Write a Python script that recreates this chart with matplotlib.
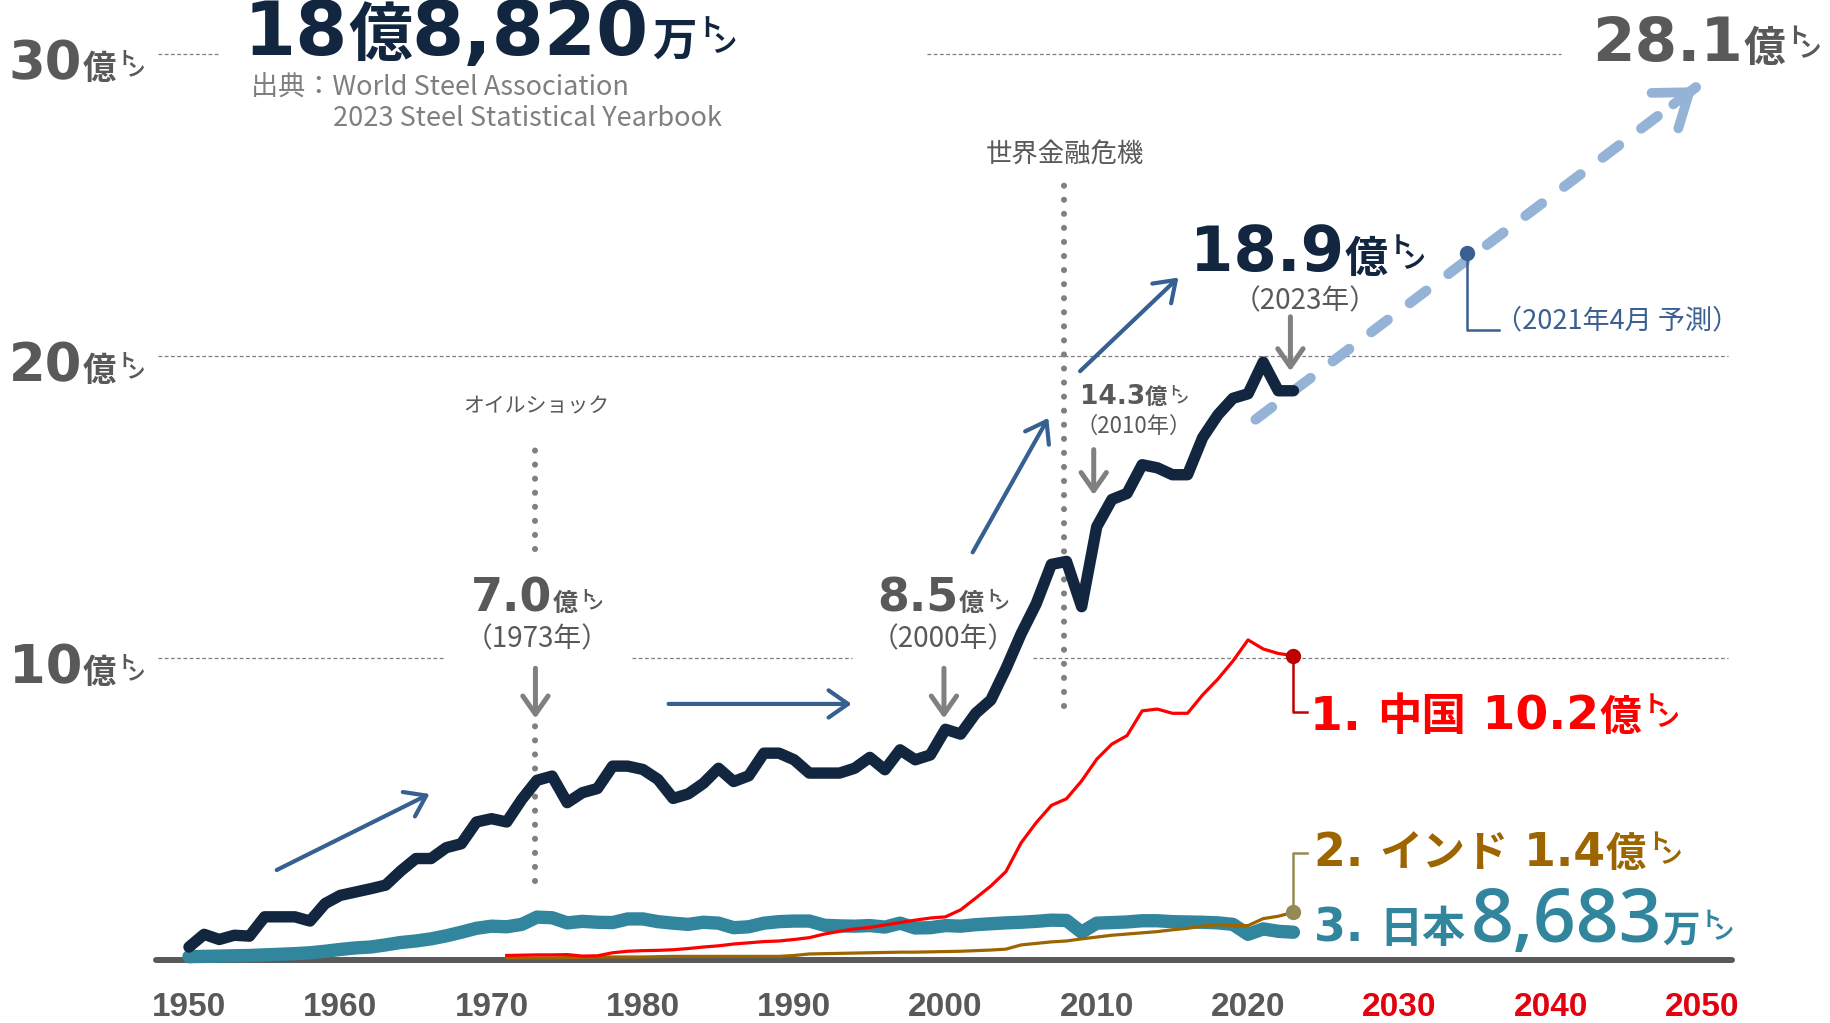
import matplotlib
matplotlib.use("Agg")
import matplotlib.pyplot as plt
from matplotlib.transforms import ScaledTranslation

# ---------------- data (億トン) ----------------
world_years = list(range(1950, 2024))
world = [0.43, 0.85, 0.68, 0.82, 0.79, 1.43, 1.43, 1.43, 1.29, 1.87,
         2.14, 2.25, 2.36, 2.48, 2.95, 3.36, 3.36, 3.72, 3.85, 4.57,
         4.68, 4.57, 5.32, 5.95, 6.09, 5.21, 5.54, 5.68, 6.42, 6.42,
         6.31, 5.98, 5.35, 5.50, 5.85, 6.35, 5.91, 6.10, 6.85, 6.85,
         6.63, 6.19, 6.19, 6.19, 6.35, 6.71, 6.30, 6.96, 6.63, 6.79,
         7.64, 7.48, 8.17, 8.61, 9.65, 10.8, 11.8, 13.1, 13.2, 11.7,
         14.35, 15.25, 15.45, 16.4, 16.3, 16.07, 16.07, 17.3, 18.05, 18.6,
         18.75, 19.8, 18.85, 18.85]

japan_years = list(range(1950, 2024))
japan = [0.11, 0.12, 0.13, 0.14, 0.15, 0.17, 0.19, 0.21, 0.24, 0.29,
         0.35, 0.40, 0.43, 0.50, 0.58, 0.63, 0.70, 0.80, 0.92, 1.05,
         1.12, 1.10, 1.18, 1.42, 1.40, 1.23, 1.28, 1.25, 1.24, 1.36,
         1.36, 1.27, 1.22, 1.18, 1.25, 1.22, 1.07, 1.10, 1.22, 1.27,
         1.29, 1.29, 1.15, 1.13, 1.12, 1.14, 1.09, 1.22, 1.06, 1.07,
         1.14, 1.12, 1.17, 1.20, 1.23, 1.25, 1.28, 1.32, 1.31, 0.92,
         1.22, 1.24, 1.26, 1.30, 1.30, 1.27, 1.26, 1.25, 1.23, 1.18,
         0.85, 1.03, 0.95, 0.92]

china_years = list(range(1971, 2024))
china = [0.15, 0.16, 0.17, 0.17, 0.18, 0.13, 0.14, 0.24, 0.29,
         0.31, 0.32, 0.34, 0.38, 0.43, 0.47, 0.53, 0.57, 0.61, 0.63,
         0.68, 0.74, 0.86, 0.95, 1.03, 1.08, 1.16, 1.24, 1.32, 1.39,
         1.43, 1.66, 2.05, 2.45, 2.93, 3.88, 4.55, 5.12, 5.34, 5.93,
         6.65, 7.15, 7.43, 8.25, 8.31, 8.17, 8.17, 8.78, 9.30, 9.90,
         10.60, 10.30, 10.15, 10.08]

india_years = list(range(1971, 2024))
india = [0.07, 0.07, 0.07, 0.07, 0.08, 0.09, 0.10, 0.10, 0.10,
         0.10, 0.11, 0.12, 0.12, 0.12, 0.12, 0.12, 0.12, 0.12, 0.12,
         0.15, 0.20, 0.21, 0.22, 0.23, 0.24, 0.25, 0.26, 0.26, 0.27,
         0.28, 0.29, 0.31, 0.33, 0.36, 0.50, 0.55, 0.60, 0.63, 0.70,
         0.76, 0.82, 0.86, 0.90, 0.94, 1.00, 1.05, 1.12, 1.17, 1.14,
         1.14, 1.37, 1.45, 1.58]

# 2021年4月 予測 (projection line, start / end)
proj_years = [2020.5, 2049.6]
proj_values = [17.9, 28.9]
forecast_point = (2034.5, 23.4)

tick_years = [1950, 1960, 1970, 1980, 1990, 2000, 2010, 2020, 2030, 2040, 2050]
tick_labels = [str(y) for y in tick_years]
y_levels = [10, 20, 30]

# ---------------- style ----------------
NAVY = "#12263f"
GRAY = "#595959"
LGRAY = "#7f7f7f"
RED = "#ff0000"
BROWN = "#9c6500"
TEAL = "#31859c"
BLUE = "#376092"
PROJ = "#95b3d7"
TXTBLUE = "#3a5f91"

JP = ["Noto Sans CJK JP"]
MIX = ["DejaVu Sans", "Noto Sans CJK JP"]

plt.rcParams["font.family"] = MIX

DPI = 100
fig = plt.figure(figsize=(18.31, 10.23), dpi=DPI)
ax = fig.add_axes([0, 0, 1, 1])
ax.set_xlim(1937.51, 2058.53)
ax.set_ylim(-2.086, 31.79)
ax.patch.set_alpha(0)

for s in ["left", "right", "top"]:
    ax.spines[s].set_visible(False)
ax.spines["bottom"].set_position(("data", 0))
ax.spines["bottom"].set_bounds(1947.8, 2052.0)
ax.spines["bottom"].set_linewidth(4.3)
ax.spines["bottom"].set_color(GRAY)
ax.spines["bottom"].set_capstyle("round")
ax.spines["bottom"].set_zorder(1)
ax.set_yticks([])
ax.set_xticks(tick_years)
ax.set_xticklabels(tick_labels)
ax.tick_params(axis="x", length=0, pad=23)
for lab, yr in zip(ax.get_xticklabels(), tick_years):
    lab.set_family(["Liberation Sans", "DejaVu Sans"])
    lab.set_fontweight("bold")
    lab.set_fontsize(24)
    lab.set_color("#e3000f" if yr > 2023 else GRAY)

# ---------------- grid segments ----------------
grid_segments = {30: [(1947.95, 1951.9), (1998.8, 2040.7)],
                 20: [(1947.95, 2051.7)],
                 10: [(1947.95, 1966.9), (1979.3, 1993.8), (2005.8, 2051.7)]}
for lvl in y_levels:
    for a, b in grid_segments[lvl]:
        ax.hlines(lvl, a, b, colors=LGRAY, linewidth=0.9, linestyles=(0, (3, 2)), zorder=1)

# ---------------- dotted event lines ----------------
def dotted(x, y0, y1):
    ax.plot([x, x], [y0, y1], color="#808080", lw=4.4, linestyle=(0, (0.001, 2.3)),
            dash_capstyle="round", zorder=2)

dotted(1972.9, 13.6, 17.3)
dotted(1972.9, 2.6, 8.0)
dotted(2007.83, 8.4, 26.0)

# ---------------- series ----------------
ax.plot(proj_years, proj_values, color=PROJ, lw=7.4, dashes=(2.0, 2.7),
        dash_capstyle="round", zorder=3, clip_on=False)
slope = (proj_values[1] - proj_values[0]) / (proj_years[1] - proj_years[0])
ax.annotate("", xy=(proj_years[1], proj_values[1]),
            xytext=(proj_years[1] - 1.5, proj_values[1] - 1.5 * slope),
            arrowprops=dict(arrowstyle="->,head_length=0.55,head_width=0.4", color=PROJ, lw=7,
                            shrinkA=0, shrinkB=0, mutation_scale=40, capstyle="round"), zorder=3)

ax.plot(japan_years, japan, color=TEAL, lw=9.6, solid_capstyle="round",
        solid_joinstyle="round", zorder=4, clip_on=False)
ax.plot(india_years, india, color=BROWN, lw=2.3, solid_joinstyle="round", zorder=5, clip_on=False)
ax.plot(china_years, china, color=RED, lw=2.3, solid_joinstyle="round", zorder=5, clip_on=False)
ax.plot(world_years, world, color=NAVY, lw=8.2, solid_capstyle="round",
        solid_joinstyle="round", zorder=6, clip_on=False)

# end markers and leaders
cx, cy = china_years[-1], china[-1]
ax.plot([cx, cx, 2023.9], [cy, 8.2, 8.2], color="#c00000", lw=1.8, zorder=5)
ax.plot([cx], [cy], "o", color="#c00000", ms=10, zorder=7)
ix, iy = india_years[-1], india[-1]
ax.plot([ix, ix, 2023.9], [iy, 3.55, 3.55], color="#948a54", lw=1.8, zorder=5)
ax.plot([ix], [iy], "o", color="#948a54", ms=10, zorder=7)
fx, fy = forecast_point
ax.plot([fx, fx, 2036.6], [fy, 20.85, 20.85], color=TXTBLUE, lw=1.8, zorder=5)
ax.plot([fx], [fy], "o", color=TXTBLUE, ms=10, zorder=7)

# ---------------- arrows ----------------
def arrow(p0, p1, color, lw, ms=28):
    ax.annotate("", xy=p1, xytext=p0,
                arrowprops=dict(arrowstyle="->,head_length=0.5,head_width=0.35", color=color, lw=lw,
                                shrinkA=0, shrinkB=0, mutation_scale=ms, capstyle="round"), zorder=8)

arrow((1955.8, 2.98), (1965.9, 5.5), BLUE, 3)
arrow((1981.7, 8.48), (1993.8, 8.48), BLUE, 3)
arrow((2001.8, 13.5), (2006.8, 17.95), BLUE, 3)
arrow((2008.9, 19.5), (2015.4, 22.6), BLUE, 3)

arrow((1972.9, 9.66), (1972.9, 8.0), "#808080", 3.6, 26)
arrow((1999.9, 9.66), (1999.9, 8.0), "#808080", 3.6, 26)
arrow((2009.8, 16.9), (2009.8, 15.4), "#808080", 3.6, 26)
arrow((2022.8, 21.3), (2022.8, 19.5), "#808080", 3.6, 26)

# ---------------- rich text helper ----------------
renderer = fig.canvas.get_renderer()

def rich(x, y, parts, ha="left", zorder=10):
    items = []
    for s, kw in parts:
        kw = dict(kw)
        dx = kw.pop("dx", 0.0)
        dy = kw.pop("dy", 0.0)
        t = ax.text(x, y, s, ha="left", va="baseline", zorder=zorder, **kw)
        w = t.get_window_extent(renderer=renderer).width
        items.append((t, dx, dy, w))
    total = sum(dx * DPI / 72 + w for _, dx, _, w in items)
    off = {"left": 0.0, "center": -total / 2, "right": -total}[ha]
    for t, dx, dy, w in items:
        off += dx * DPI / 72
        t.set_transform(ax.transData + ScaledTranslation(off / DPI, dy / 72, fig.dpi_scale_trans))
        off += w

def num(s, size, color):
    return (s, dict(size=size, color=color, weight="bold", family=MIX))

def jp(s, size, color, weight="bold", dx=0):
    return (s, dict(size=size, color=color, weight=weight, family=JP, dx=dx))

def ton(big, small, color):
    return [("ト", dict(size=small, color=color, weight="bold", family=JP, dx=1, dy=0.42 * big)),
            ("ン", dict(size=small, color=color, weight="bold", family=JP, dx=-0.45 * small, dy=0.08 * big))]

# y labels
for lvl in y_levels:
    rich(1938.1, lvl - 0.83, [num(str(lvl), 38, GRAY), jp("億", 24, GRAY)] + ton(24, 13, GRAY))

# headline
rich(1969.9, 29.97, [num("18", 54, NAVY), jp("億", 46, NAVY), num("8,820", 54, NAVY),
                     jp("万", 32, NAVY, dx=2)] + ton(32, 18, NAVY), ha="center")
ax.text(1954.1, 28.89, "出典：World Steel Association", family=JP, size=19.5, color=LGRAY, va="center")
ax.text(1959.5, 27.85, "2023 Steel Statistical Yearbook", family=JP, size=19.5, color=LGRAY, va="center")

rich(2050.3, 29.78, [num("28.1", 44, GRAY), jp("億", 30, GRAY)] + ton(30, 16, GRAY), ha="center")
rich(2023.95, 22.8, [num("18.9", 45, NAVY), jp("億", 31, NAVY)] + ton(31, 17, NAVY), ha="center")
ax.text(2023.8, 21.8, "（2023年）", family=JP, size=20, color=GRAY, ha="center", va="center")

rich(1973.0, 11.55, [num("7.0", 33, GRAY), jp("億", 18, GRAY)] + ton(18, 11, GRAY), ha="center")
ax.text(1973.0, 10.62, "（1973年）", family=JP, size=20, color=GRAY, ha="center", va="center")
rich(1999.85, 11.55, [num("8.5", 33, GRAY), jp("億", 18, GRAY)] + ton(18, 11, GRAY), ha="center")
ax.text(1999.85, 10.62, "（2000年）", family=JP, size=20, color=GRAY, ha="center", va="center")
rich(2012.45, 18.4, [num("14.3", 19, GRAY), jp("億", 16, GRAY)] + ton(16, 9, GRAY), ha="center")
ax.text(2012.45, 17.68, "（2010年）", family=JP, size=16, color=GRAY, ha="center", va="center")

ax.text(1972.93, 18.34, "オイルショック", family=JP, size=15, color=GRAY, ha="center", va="center")
ax.text(2007.9, 26.65, "世界金融危機", family=JP, size=19, color=GRAY, ha="center", va="center")
ax.text(2036.3, 21.15, "（2021年4月 予測）", family=JP, size=19.5, color=TXTBLUE, ha="left", va="center")

# country labels
rich(2024.1, 7.62, [num("1. ", 34, RED), jp("中国", 32, RED), num(" 10.2", 34, RED),
                    jp("億", 30, RED)] + ton(30, 17, RED))
rich(2024.35, 3.1, [num("2. ", 33, BROWN), jp("インド", 31, BROWN), num(" 1.4", 33, BROWN),
                    jp("億", 29, BROWN)] + ton(29, 16, BROWN))
rich(2024.35, 0.6, [num("3. ", 33, TEAL), jp("日本", 31, TEAL),
                    ("8,683", dict(size=54, color=TEAL, weight="semibold", family=["Open Sans", "DejaVu Sans"], dx=4)),
                    jp("万", 27, TEAL)] + ton(27, 15, TEAL))

fig.savefig("out.png", dpi=DPI)
